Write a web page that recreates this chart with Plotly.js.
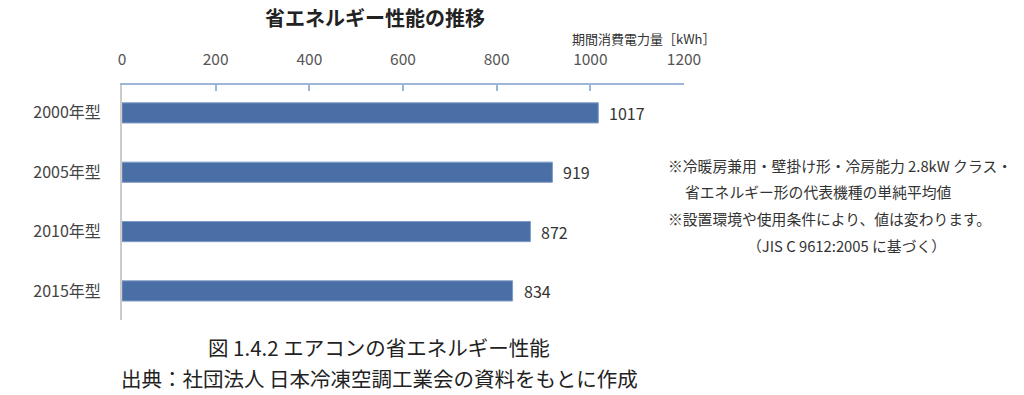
<!DOCTYPE html>
<html>
<head>
<meta charset="utf-8">
<script src="https://cdn.plot.ly/plotly-3.0.1.min.js"></script>
<style>html,body{margin:0;padding:0;background:#fff;}#chart{width:1024px;height:395px;}</style>
</head>
<body>
<div id="chart"></div>
<script>
const categories = ["2000年型", "2005年型", "2010年型", "2015年型"];
const values = [1017, 919, 872, 834];
const xTicks = [0, 200, 400, 600, 800, 1000, 1200];

const chartTitle = "省エネルギー性能の推移";
const unitLabel = "期間消費電力量［kWh］";
const notes = [
  "※冷暖房兼用・壁掛け形・冷房能力 2.8kW クラス・",
  "省エネルギー形の代表機種の単純平均値",
  "※設置環境や使用条件により、値は変わります。",
  "（JIS C 9612:2005 に基づく）"
];
const captions = [
  "図 1.4.2 エアコンの省エネルギー性能",
  "出典：社団法人 日本冷凍空調工業会の資料をもとに作成"
];

const FONT = '"Noto Sans CJK JP", "Noto Sans", sans-serif';

// plot area in pixels
const L = 122, R = 684, T = 85, B = 320;
const W = 1024, H = 395;
const px = x => (x - L) / (R - L);
const py = y => (B - y) / (B - T);

const trace = {
  type: 'bar',
  orientation: 'h',
  x: values,
  y: categories,
  width: 0.34,
  marker: {color: '#4a6fa6', line: {color: '#7f9cc6', width: 1}},
  hoverinfo: 'skip'
};

const annotations = [];
values.forEach((v, i) => {
  annotations.push({
    x: v, y: categories[i], xref: 'x', yref: 'y',
    text: String(v), showarrow: false, xanchor: 'left', xshift: 9,
    font: {family: FONT, size: 16, color: '#333333'}
  });
});

annotations.push({
  x: px(375), y: py(18), xref: 'paper', yref: 'paper',
  text: '<b>' + chartTitle + '</b>', showarrow: false,
  xanchor: 'center', yanchor: 'middle',
  font: {family: FONT, size: 20, color: '#222222'}
});
annotations.push({
  x: px(716), y: py(38), xref: 'paper', yref: 'paper',
  text: unitLabel, showarrow: false, xanchor: 'right', yanchor: 'middle',
  borderpad: 0,
  font: {family: FONT, size: 13, color: '#333333'}
});

const noteX = [666, 683, 666, 745];
const noteY = [165, 191, 218, 245];
notes.forEach((t, i) => {
  annotations.push({
    x: px(noteX[i]), y: py(noteY[i]), xref: 'paper', yref: 'paper',
    text: t, showarrow: false, xanchor: 'left', yanchor: 'middle',
    font: {family: FONT, size: 14.8, color: '#333333'}
  });
});

const capY = [347, 378];
captions.forEach((t, i) => {
  annotations.push({
    x: px(379), y: py(capY[i]), xref: 'paper', yref: 'paper',
    text: t, showarrow: false, xanchor: 'center', yanchor: 'middle',
    font: {family: FONT, size: 20.5, color: '#222222'}
  });
});

const layout = {
  width: W, height: H,
  margin: {l: L, r: W - R, t: T, b: H - B, pad: 0},
  paper_bgcolor: '#ffffff',
  plot_bgcolor: '#ffffff',
  showlegend: false,
  xaxis: {
    side: 'top',
    range: [0, 1200],
    tickvals: xTicks,
    ticktext: xTicks.map(String),
    showgrid: false,
    zeroline: false,
    showline: true,
    linecolor: '#9db5d9',
    linewidth: 2,
    ticks: 'inside',
    ticklen: 6,
    tickwidth: 2,
    tickcolor: '#9db5d9',
    ticklabelstandoff: 12,
    tickfont: {family: FONT, size: 15.5, color: '#555555'},
    fixedrange: true
  },
  yaxis: {
    type: 'category',
    range: [3.49, -0.47],
    showgrid: false,
    zeroline: false,
    showline: true,
    linecolor: '#cccccc',
    linewidth: 2,
    ticks: '',
    ticklabelstandoff: 16,
    tickfont: {family: FONT, size: 16, color: '#444444'},
    fixedrange: true
  },
  annotations: annotations
};

Plotly.newPlot('chart', [trace], layout, {staticPlot: true, displayModeBar: false});
</script>
</body>
</html>
